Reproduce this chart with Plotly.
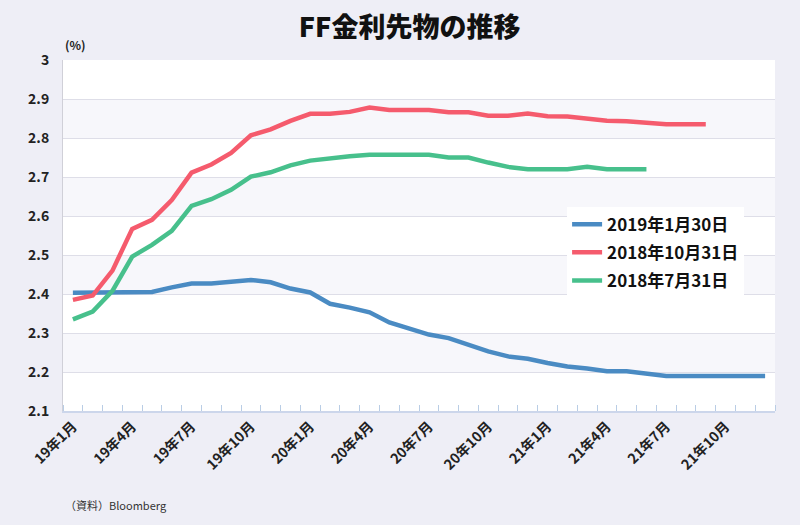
import plotly.graph_objects as go

# ---- data ----
months = [f"{y}年{m}月" for y in (19, 20, 21) for m in range(1, 13)]
tick_labels = ["19年1月", "19年4月", "19年7月", "19年10月", "20年1月", "20年4月",
               "20年7月", "20年10月", "21年1月", "21年4月", "21年7月", "21年10月"]
y_ticks = [2.1, 2.2, 2.3, 2.4, 2.5, 2.6, 2.7, 2.8, 2.9, 3.0]
y_tick_text = ["2.1", "2.2", "2.3", "2.4", "2.5", "2.6", "2.7", "2.8", "2.9", "3"]

s_2019_01_30 = [2.403, 2.403, 2.405, 2.405, 2.405, 2.417, 2.427, 2.427, 2.432, 2.436,
                2.430, 2.414, 2.404, 2.375, 2.365, 2.353, 2.327, 2.311, 2.296, 2.287,
                2.270, 2.253, 2.240, 2.234, 2.223, 2.214, 2.209, 2.202, 2.202, 2.196,
                2.190, 2.190, 2.190, 2.190, 2.190, 2.190]
s_2018_10_31 = [2.385, 2.396, 2.460, 2.567, 2.590, 2.641, 2.711, 2.732, 2.762, 2.807,
                2.822, 2.844, 2.862, 2.862, 2.867, 2.878, 2.872, 2.872, 2.872, 2.866,
                2.866, 2.857, 2.857, 2.863, 2.856, 2.855, 2.849, 2.844, 2.843, 2.839,
                2.835, 2.835, 2.835]
s_2018_07_31 = [2.335, 2.355, 2.408, 2.496, 2.526, 2.562, 2.626, 2.643, 2.667, 2.701,
                2.712, 2.730, 2.742, 2.748, 2.753, 2.757, 2.757, 2.757, 2.757, 2.750,
                2.750, 2.737, 2.726, 2.720, 2.720, 2.720, 2.726, 2.720, 2.720, 2.720]

series = [
    ("2019年1月30日", s_2019_01_30, "#4a8bc3"),
    ("2018年10月31日", s_2018_10_31, "#f55b6d"),
    ("2018年7月31日", s_2018_07_31, "#47c08c"),
]

FONT = "Noto Sans CJK JP"

fig = go.Figure()
for i, (name, vals, color) in enumerate(series):
    fig.add_trace(go.Scatter(
        x=list(range(len(vals))), y=vals, mode="lines", name=name,
        line=dict(color=color, width=4.5),
        legendgroup=f"g{i}",
    ))

# alternating bands
shapes = []
for k in range(len(y_ticks) - 1):
    if k % 2 == 1:
        shapes.append(dict(type="rect", xref="paper", yref="y", x0=0, x1=1,
                           y0=y_ticks[k], y1=y_ticks[k + 1],
                           fillcolor="#f7f7fb", line=dict(width=0), layer="below"))

n = len(months)
fig.update_layout(
    width=800, height=525,
    paper_bgcolor="#eeeef6", plot_bgcolor="#ffffff",
    margin=dict(l=63, r=25, t=60, b=114),
    font=dict(family=FONT, color="#222222"),
    title=dict(text="FF金利先物の推移", x=0.512, xanchor="center",
               y=0.947, yanchor="middle",
               font=dict(size=27, color="#111111", weight=900)),
    shapes=shapes,
    showlegend=True,
    legend=dict(x=0.708, y=0.582, xanchor="left", yanchor="top",
                bgcolor="#ffffff", borderwidth=0,
                font=dict(size=17, color="#111111", family=FONT, weight="bold"),
                traceorder="grouped", tracegroupgap=3,
                itemwidth=30),
    xaxis=dict(
        range=[-0.5, n - 0.5],
        tickmode="array",
        tickvals=[months.index(t) for t in tick_labels],
        ticktext=tick_labels,
        tickangle=-45, ticks="", showgrid=False, zeroline=False,
        showline=True, linecolor="#ccd6eb", linewidth=1.5,
        tickfont=dict(size=14, color="#222222", weight="bold"),
        minor=dict(tickmode="array", tickvals=[k - 0.5 for k in range(n + 1)],
                   ticks="inside", ticklen=6, tickcolor="#b9cde5", tickwidth=1,
                   showgrid=False),
        fixedrange=True,
    ),
    yaxis=dict(
        range=[2.1, 3.0],
        tickmode="array", tickvals=y_ticks,
        ticktext=y_tick_text,
        showgrid=True, gridcolor="#dedee8", gridwidth=1,
        zeroline=False, showline=True, linecolor="#d0d0d8", linewidth=1,
        tickfont=dict(size=14, color="#222222", weight="bold"),
        ticks="", ticklabelstandoff=10,
    ),
    annotations=[
        dict(text="(%)", xref="paper", yref="paper", x=0.0, y=1.0,
             xanchor="left", yanchor="bottom", yshift=5, showarrow=False,
             font=dict(size=12, color="#222222", weight="bold")),
        dict(text="（資料）Bloomberg", xref="paper", yref="paper", x=0.0, y=-0.268,
             xanchor="left", yanchor="middle", showarrow=False,
             font=dict(size=11, color="#333333")),
    ],
)

fig.write_html("out.html", config={"displayModeBar": False},
               post_script="document.body.style.margin='0';")
